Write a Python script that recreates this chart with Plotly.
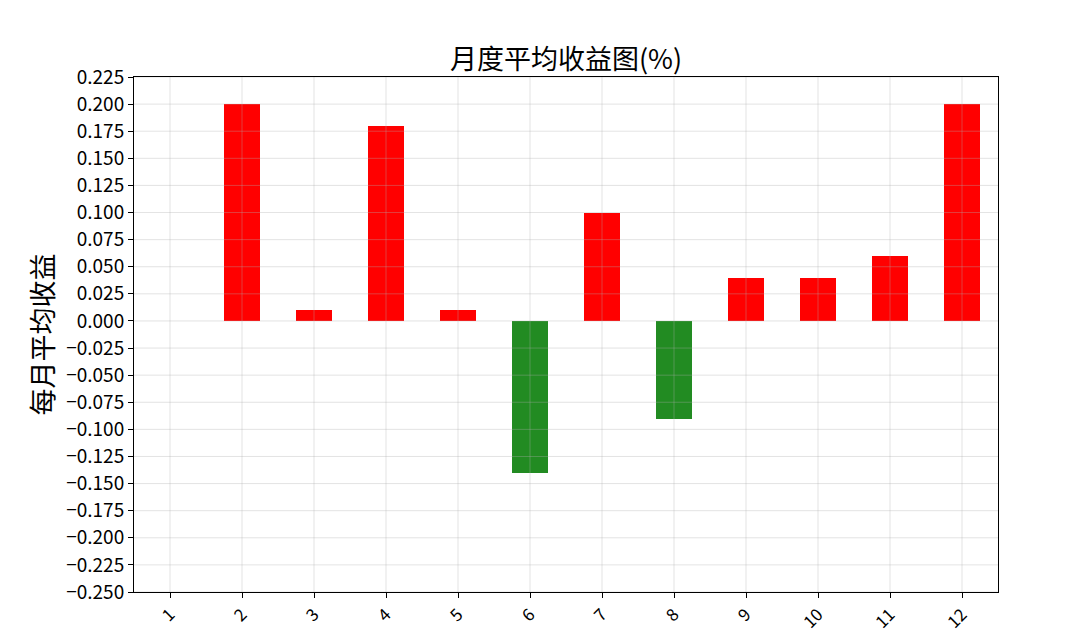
import plotly.graph_objects as go

months = list(range(1, 13))
returns = [0.0, 0.20, 0.01, 0.18, 0.01, -0.14, 0.10, -0.09, 0.04, 0.04, 0.06, 0.20]
y_ticks = [round(-0.25 + 0.025 * i, 3) for i in range(20)]
title_text = "月度平均收益图(%)"
ylabel = "每月平均收益"

colors = ["#ff0000" if v >= 0 else "#228b22" for v in returns]

fig = go.Figure()
fig.add_trace(go.Bar(x=months, y=returns, marker=dict(color=colors, line=dict(width=0)),
                     width=0.5))

font_family = "Noto Sans CJK SC, DejaVu Sans, sans-serif"

shapes = []
for t in y_ticks:
    shapes.append(dict(type="line", xref="paper", yref="y", x0=0, x1=1, y0=t, y1=t,
                       line=dict(color="rgba(176,176,176,0.35)", width=1), layer="above"))
for m in months:
    shapes.append(dict(type="line", xref="x", yref="paper", x0=m, x1=m, y0=0, y1=1,
                       line=dict(color="rgba(176,176,176,0.35)", width=1), layer="above"))

W, H = 1090, 633
fig.update_layout(
    width=W, height=H,
    margin=dict(l=126, r=100, t=69, b=49, autoexpand=False),
    paper_bgcolor="white", plot_bgcolor="white",
    font=dict(family=font_family, color="black", size=19),
    title=dict(text=title_text, x=558/W, xanchor="center", y=1-52/H, yanchor="middle",
               font=dict(size=27), automargin=False),
    showlegend=False,
    shapes=shapes,
    bargap=0,
)
fig.update_xaxes(range=[0.5, 12.5], tickmode="array", tickvals=months,
                 ticktext=[str(m) for m in months], tickangle=-45,
                 showgrid=False, zeroline=False, showline=True, linecolor="black",
                 linewidth=1, mirror=True, ticks="outside", ticklen=5, tickcolor="black",
                 tickfont=dict(size=17), automargin=False)
fig.update_yaxes(range=[-0.25, 0.225], tickmode="array", tickvals=y_ticks,
                 ticktext=[f"{t:.3f}".replace("-", "\u2212") for t in y_ticks],
                 showgrid=False, zeroline=False, showline=True, linecolor="black",
                 linewidth=1, mirror=True, ticks="outside", ticklen=5, tickcolor="black",
                 tickfont=dict(size=19), automargin=False,
                 title=dict(text=ylabel, font=dict(size=27), standoff=4))

fig.write_html("out.html")
